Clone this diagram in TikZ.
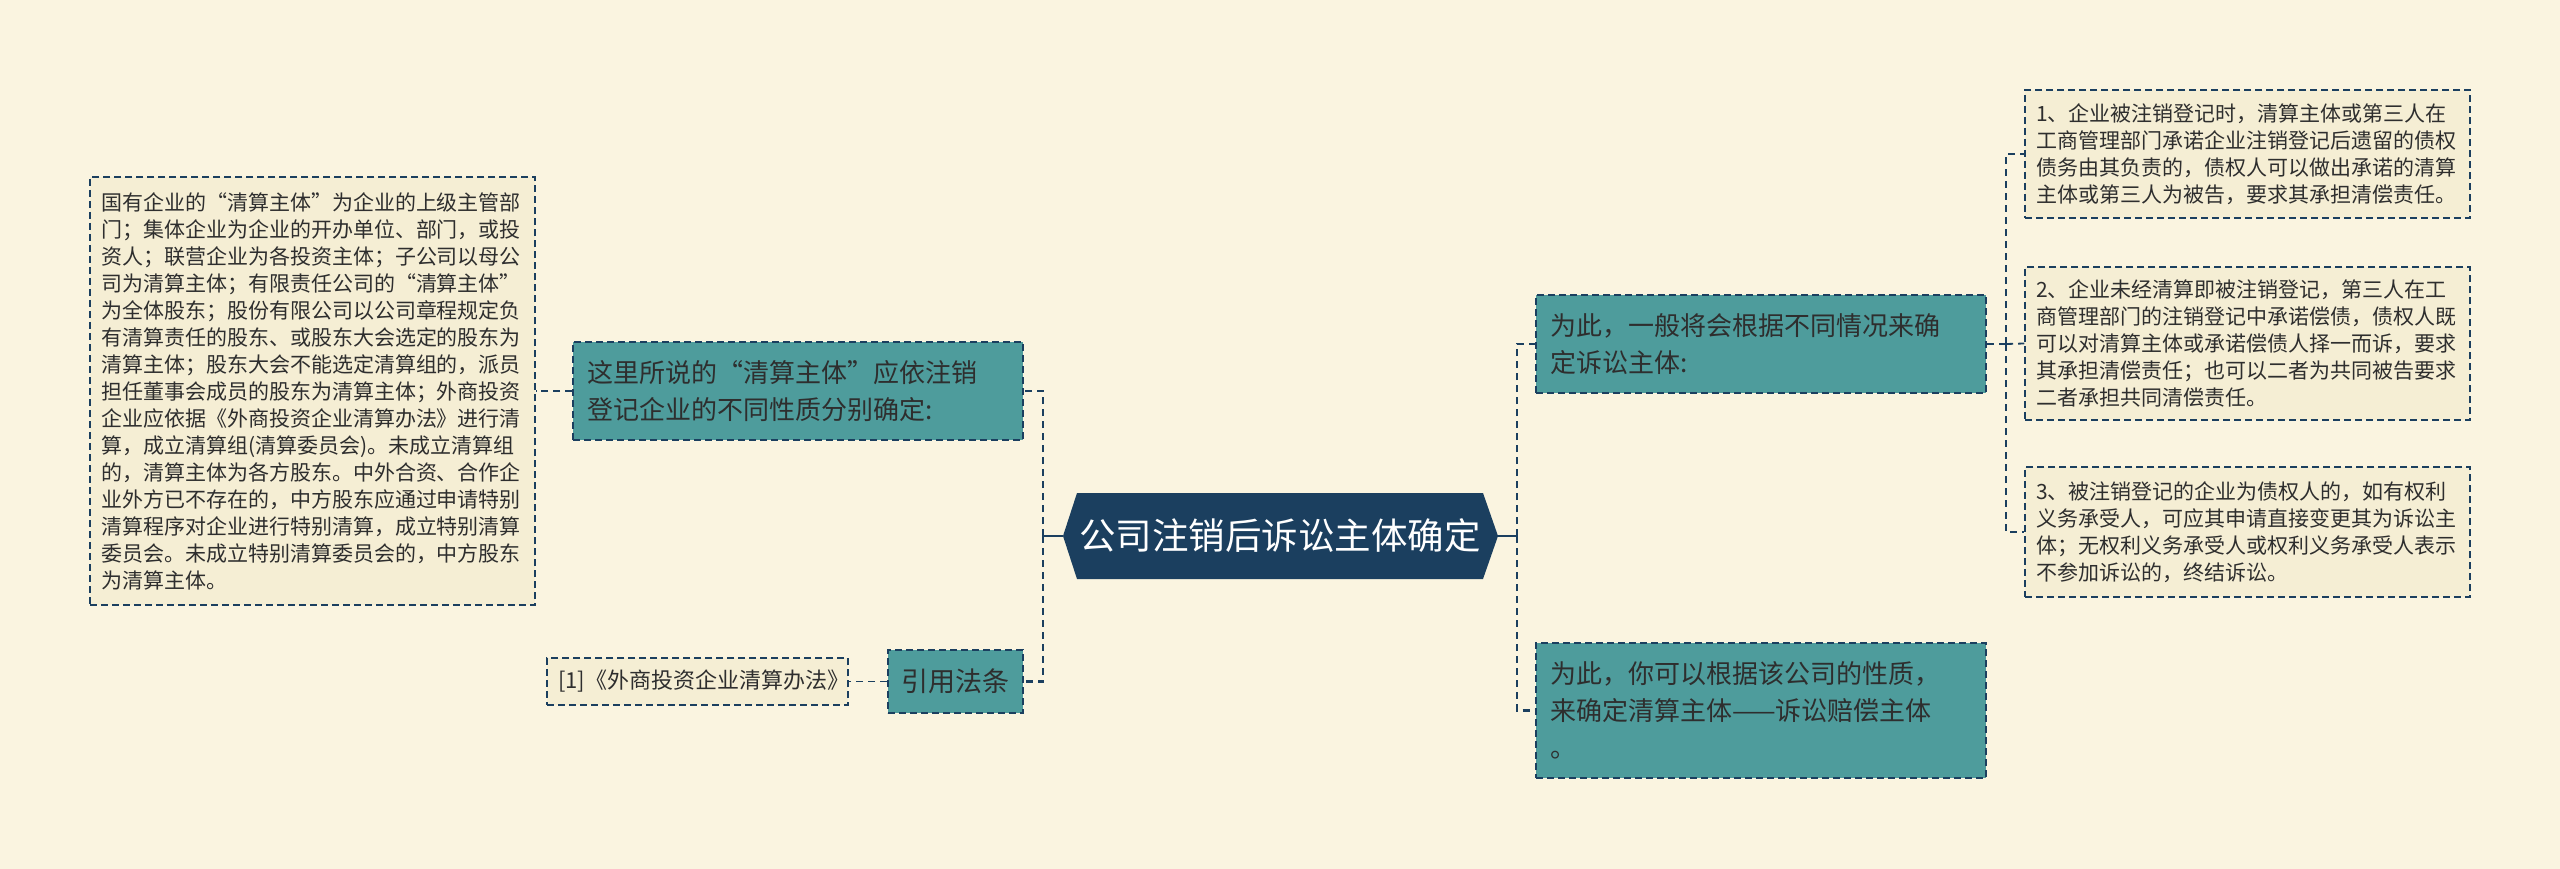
\documentclass[tikz,border=0pt]{standalone}
\usepackage{fontspec}
\setmainfont{Noto Sans CJK SC}
\definecolor{bg}{HTML}{FAF4E0}
\definecolor{navy}{HTML}{1B3F5F}
\definecolor{teal2}{HTML}{4E9C9C}
\definecolor{paper}{HTML}{F5EED4}
\definecolor{ink}{HTML}{2E2E2E}
\begin{document}
\begin{tikzpicture}[x=1pt,y=-1pt,
  tealbox/.style={draw=navy, line width=2pt, dash pattern=on 7pt off 4pt, fill=teal2, text=ink, inner xsep=14pt, inner ysep=0pt, align=left, font=\fontsize{26}{37}\selectfont},
  paperbox/.style={draw=navy, line width=1.5pt, dash pattern=on 7pt off 4pt, fill=paper, text=ink, inner xsep=11pt, inner ysep=0pt, align=left, font=\fontsize{21}{27}\selectfont},
  trunk/.style={draw=navy, line width=2.5pt, dash pattern=on 7pt off 5pt},
  twig/.style={draw=navy, line width=1.8pt, dash pattern=on 7pt off 5pt},
  stem/.style={draw=navy, line width=2.5pt}
]
\fill[bg] (0,0) rectangle (2560,869);
\useasboundingbox (0,0) rectangle (2560,869);

% center hexagon
\fill[navy] (1063,536) -- (1077,493) -- (1483,493) -- (1498,536) -- (1483,579) -- (1077,579) -- cycle;
\node[text=white, font=\fontsize{36.5}{44}\selectfont, inner sep=0pt] (c) at (1280,536) {公司注销后诉讼主体确定};
\coordinate (cl) at (1063,536);
\coordinate (cr) at (1498,536);
\coordinate (jl) at (1043,536);
\coordinate (jr) at (1517,536);
\coordinate (jr2) at (2006,344);

% left side
\node[tealbox, text width=422pt, minimum height=98pt] (a1) at (798,391) {这里所说的“清算主体”应依注销\\登记企业的不同性质分别确定:};
\node[tealbox, inner xsep=0pt, align=center, minimum width=135pt, minimum height=63pt, font=\fontsize{27}{33}\selectfont] (a2) at (955.5,681.5) {引用法条};
\node[paperbox, text width=423pt, minimum height=428pt] (L1) at (312.5,391) {国有企业的“清算主体”为企业的上级主管部\\门；集体企业为企业的开办单位、部门，或投\\资人；联营企业为各投资主体；子公司以母公\\司为清算主体；有限责任公司的“清算主体”\\为全体股东；股份有限公司以公司章程规定负\\有清算责任的股东、或股东大会选定的股东为\\清算主体；股东大会不能选定清算组的，派员\\担任董事会成员的股东为清算主体；外商投资\\企业应依据《外商投资企业清算办法》进行清\\算，成立清算组(清算委员会)。未成立清算组\\的，清算主体为各方股东。中外合资、合作企\\业外方已不存在的，中方股东应通过申请特别\\清算程序对企业进行特别清算，成立特别清算\\委员会。未成立特别清算委员会的，中方股东\\为清算主体。};
\node[paperbox, text width=279pt, minimum height=47pt, font=\fontsize{22}{27}\selectfont] (L2) at (697.5,681.5) {[1]《外商投资企业清算办法》};

% right side
\node[tealbox, text width=422pt, minimum height=98pt] (r1) at (1761,344) {为此，一般将会根据不同情况来确\\定诉讼主体:};
\node[tealbox, text width=422pt, minimum height=135pt] (r2) at (1761,710.5) {为此，你可以根据该公司的性质，\\来确定清算主体——诉讼赔偿主体\\。};
\node[paperbox, text width=423pt, minimum height=128pt] (b1) at (2247.5,154) {1、企业被注销登记时，清算主体或第三人在\\工商管理部门承诺企业注销登记后遗留的债权\\债务由其负责的，债权人可以做出承诺的清算\\主体或第三人为被告，要求其承担清偿责任。};
\node[paperbox, text width=423pt, minimum height=153pt] (b2) at (2247.5,343.5) {2、企业未经清算即被注销登记，第三人在工\\商管理部门的注销登记中承诺偿债，债权人既\\可以对清算主体或承诺偿债人择一而诉，要求\\其承担清偿责任；也可以二者为共同被告要求\\二者承担共同清偿责任。};
\node[paperbox, text width=423pt, minimum height=130pt] (b3) at (2247.5,532) {3、被注销登记的企业为债权人的，如有权利\\义务承受人，可应其申请直接变更其为诉讼主\\体；无权利义务承受人或权利义务承受人表示\\不参加诉讼的，终结诉讼。};

% connectors
\draw[stem] (cl) -- (jl);
\draw[trunk] (jl) |- (a1.east);
\draw[trunk] (jl) |- (a2.east);
\draw[stem] (cr) -- (jr);
\draw[trunk] (jr) |- (r1.west);
\draw[trunk] (jr) |- (r2.west);
\draw[twig] (a1.west) -- (L1.east);
\draw[twig] (a2.west) -- (L2.east);
\draw[twig] (r1.east) -- (jr2);
\draw[twig] (jr2) |- (b1.west);
\draw[twig] (jr2) -- (b2.west);
\draw[twig] (jr2) |- (b3.west);
\end{tikzpicture}
\end{document}
